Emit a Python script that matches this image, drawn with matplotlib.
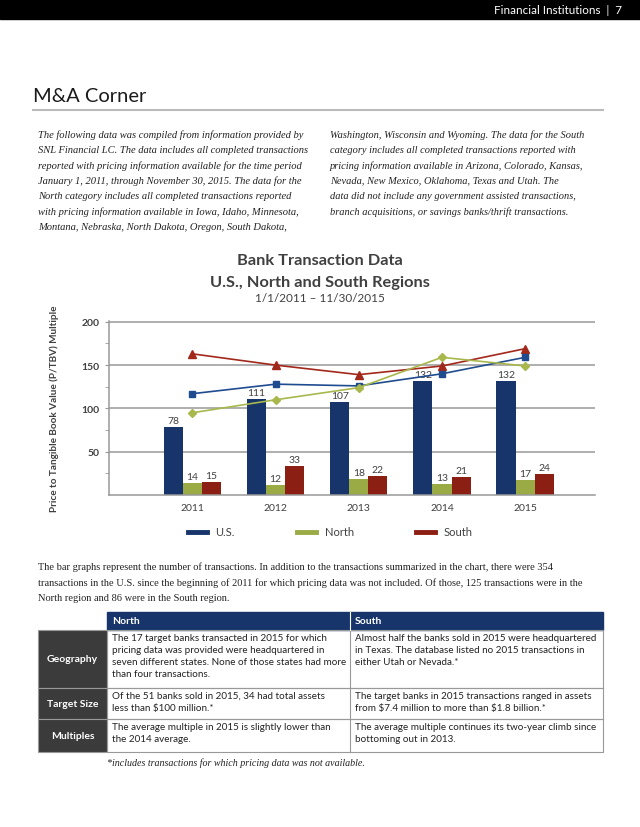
import matplotlib
matplotlib.use("Agg")
from matplotlib import pyplot as plt
from matplotlib.patches import Rectangle
from matplotlib.lines import Line2D
import numpy as np

# data
years = ["2011", "2012", "2013", "2014", "2015"]
us_counts = [78, 111, 107, 132, 132]
north_counts = [14, 12, 18, 13, 17]
south_counts = [15, 33, 22, 21, 24]
us_ptbv = [117, 128, 126, 140, 159]
north_ptbv = [95, 110, 124, 159, 149]
south_ptbv = [163, 150, 139, 149, 169]

left_col = [
    "The following data was compiled from information provided by",
    "SNL Financial LC. The data includes all completed transactions",
    "reported with pricing information available for the time period",
    "January 1, 2011, through November 30, 2015. The data for the",
    "North category includes all completed transactions reported",
    "with pricing information available in Iowa, Idaho, Minnesota,",
    "Montana, Nebraska, North Dakota, Oregon, South Dakota,",
]
right_col = [
    "Washington, Wisconsin and Wyoming. The data for the South",
    "category includes all completed transactions reported with",
    "pricing information available in Arizona, Colorado, Kansas,",
    "Nevada, New Mexico, Oklahoma, Texas and Utah. The",
    "data did not include any government assisted transactions,",
    "branch acquisitions, or savings banks/thrift transactions.",
]
below_text = [
    "The bar graphs represent the number of transactions. In addition to the transactions summarized in the chart, there were 354",
    "transactions in the U.S. since the beginning of 2011 for which pricing data was not included. Of those, 125 transactions were in the",
    "North region and 86 were in the South region.",
]
row_labels = ["Geography", "Target Size", "Multiples"]
north_cells = [
    "The 17 target banks transacted in 2015 for which\npricing data was provided were headquartered in\nseven different states. None of those states had more\nthan four transactions.",
    "Of the 51 banks sold in 2015, 34 had total assets\nless than $100 million.*",
    "The average multiple in 2015 is slightly lower than\nthe 2014 average.",
]
south_cells = [
    "Almost half the banks sold in 2015 were headquartered\nin Texas. The database listed no 2015 transactions in\neither Utah or Nevada.*",
    "The target banks in 2015 transactions ranged in assets\nfrom $7.4 million to more than $1.8 billion.*",
    "The average multiple continues its two-year climb since\nbottoming out in 2013.",
]

SANS = "Lato"
SERIF = "Liberation Serif"
navy = "#17356b"
bar_green = "#9aab45"
bar_red = "#8c1f14"
line_blue = "#1f4c8f"
line_green = "#a8b84c"
line_red = "#a3281c"
dark = "#404040"

fig = plt.figure(figsize=(6.4, 8.28), dpi=100)
page = fig.add_axes([0, 0, 1, 1])
page.set_xlim(0, 640)
page.set_ylim(828, 0)
page.axis("off")

# header band
page.add_patch(Rectangle((0, 0), 640, 20, color="black"))
page.text(622, 10, "Financial Institutions  |  7", color="white", fontsize=8.4,
          family=SANS, ha="right", va="center")

page.text(33, 97, "M&A Corner", fontsize=14.5, family=SANS, fontweight="normal",
          color="#1a1a1a", va="center")
page.plot([33, 603], [111, 111], color="#bbbbbb", lw=1.5)

for i, s in enumerate(left_col):
    page.text(38, 135 + i * 15.4, s, fontsize=7.6, family=SERIF, style="italic",
              color="#222222", va="center")
for i, s in enumerate(right_col):
    page.text(330, 135 + i * 15.4, s, fontsize=7.5, family=SERIF, style="italic",
              color="#222222", va="center")

# chart titles
page.text(320, 261, "Bank Transaction Data", fontsize=11.8, fontweight="bold",
          family=SANS, color=dark, ha="center", va="center")
page.text(320, 283, "U.S., North and South Regions", fontsize=11.8, fontweight="bold",
          family=SANS, color=dark, ha="center", va="center")
page.text(320, 299, "1/1/2011 \u2013 11/30/2015", fontsize=8.5, family=SANS,
          color=dark, ha="center", va="center")

for i, s in enumerate(below_text):
    page.text(38, 567 + i * 16, s, fontsize=7.45, family=SERIF, color="#222222", va="center")

# table
xl, xa, xb, xr = 38, 107, 350, 603
row_y = [631, 689, 720, 753]
page.add_patch(Rectangle((xa, 613), xr - xa, 18, color=navy))
page.text(xa + 5, 622, "North", fontsize=7.5, fontweight="bold", family=SANS,
          color="white", va="center")
page.text(xb + 5, 622, "South", fontsize=7.5, fontweight="bold", family=SANS,
          color="white", va="center")
for i in range(3):
    y0, y1 = row_y[i], row_y[i + 1]
    page.add_patch(Rectangle((xl, y0), xa - xl, y1 - y0, facecolor="#3b3b3b",
                             edgecolor="#999999", lw=0.8))
    page.text((xl + xa) / 2, (y0 + y1) / 2, row_labels[i], fontsize=7.5,
              fontweight="bold", family=SANS, color="white", ha="center", va="center")
    page.add_patch(Rectangle((xa, y0), xr - xa, y1 - y0, facecolor="none",
                             edgecolor="#999999", lw=0.8))
    page.plot([xb, xb], [y0, y1], color="#999999", lw=0.8)
    page.text(xa + 5, y0 + 3, north_cells[i], fontsize=7.1, family=SANS, color="#222222",
              va="top", linespacing=1.44, parse_math=False)
    page.text(xb + 5, y0 + 3, south_cells[i], fontsize=7.1, family=SANS, color="#222222",
              va="top", linespacing=1.44, parse_math=False)
page.plot([xb, xb], [613, 631], color="white", lw=0.8)

page.text(107, 763, "*includes transactions for which pricing data was not available.",
          fontsize=7.2, family=SERIF, style="italic", color="#222222", va="center")

# chart axes
ax_l, ax_r, ax_b, ax_t = 109.3, 595, 496, 322.3
ax = fig.add_axes([ax_l / 640, 1 - ax_b / 828, (ax_r - ax_l) / 640, (ax_b - ax_t) / 828])
ax.set_facecolor("none")
x = np.arange(len(years))
w = 0.23
b1 = ax.bar(x - w, us_counts, w, color=navy, zorder=2)
b2 = ax.bar(x, north_counts, w, color=bar_green, zorder=2)
b3 = ax.bar(x + w, south_counts, w, color=bar_red, zorder=2)
for bars in (b1, b2, b3):
    ax.bar_label(bars, padding=1.5, fontsize=7.5, color=dark, family=SANS)

ax.plot(x, south_ptbv, color=line_red, lw=1.2, marker="^", ms=5.5, zorder=3)
ax.plot(x, us_ptbv, color=line_blue, lw=1.2, marker="s", ms=5, zorder=3)
ax.plot(x, north_ptbv, color=line_green, lw=1.2, marker="D", ms=4.5, zorder=3)

ax.set_xlim(-1.0, 4.84)
ax.set_ylim(0, 200.6)
ax.set_yticks([50, 100, 150, 200])
ax.set_yticks([25, 75, 125, 175], minor=True)
ax.yaxis.grid(True, color="#999999", lw=1.1, zorder=0)
ax.set_xticks(x)
ax.set_xticklabels(years)
ax.tick_params(axis="x", length=0, pad=6, labelsize=7.5, labelcolor=dark)
ax.tick_params(axis="y", which="both", length=3, color="#999999", labelsize=7.5,
               labelcolor=dark, pad=4)
for lab in ax.get_xticklabels():
    lab.set_family(SANS)
for lab in ax.get_yticklabels():
    lab.set_family(SANS)
    lab.set_fontweight("bold")
for side in ("top", "right"):
    ax.spines[side].set_visible(False)
for side in ("left", "bottom"):
    ax.spines[side].set_color("#999999")
    ax.spines[side].set_linewidth(1.1)
ax.set_ylabel("Price to Tangible Book Value (P/TBV) Multiple", fontsize=7.2,
              fontweight="bold", family=SANS, color=dark, labelpad=16)

handles = [Line2D([], [], color=navy, lw=3.5), Line2D([], [], color=bar_green, lw=3.5),
           Line2D([], [], color=bar_red, lw=3.5)]
ax.legend(handles, ["U.S.", "North", "South"], loc="center", bbox_to_anchor=(0.455, -0.213),
          ncol=3, frameon=False, handlelength=1.7, columnspacing=5.6,
          prop={"family": SANS, "size": 8}, labelcolor=dark)

fig.savefig("out.png", dpi=100)
